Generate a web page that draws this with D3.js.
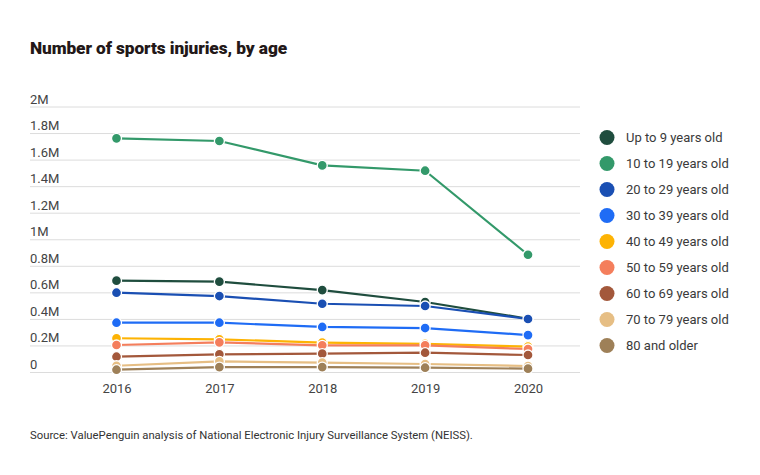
<!DOCTYPE html>
<html><head><meta charset="utf-8">
<script src="https://cdn.jsdelivr.net/npm/d3@7"></script>
<style>body{margin:0;background:#fff;font-family:Roboto,"Noto Sans",sans-serif}</style>
</head><body><svg id="c" width="760" height="475"></svg>
<script>
const years = ["2016","2017","2018","2019","2020"];
const seriesNames = ["Up to 9 years old","10 to 19 years old","20 to 29 years old","30 to 39 years old","40 to 49 years old","50 to 59 years old","60 to 69 years old","70 to 79 years old","80 and older"];
const colors = ["#1f4d3e","#33996a","#1a4fb3","#1f6cf5","#fdb304","#f47e5c","#a3583b","#e6be84","#9e8058"];
const up9   = [692000, 684000, 621000, 531000, 405000];
const y10   = [1764000,1744000,1560000,1520000, 887000];
const y20   = [601000, 576000, 518000, 501000, 403000];
const y30   = [375000, 375000, 343000, 335000, 282000];
const y40   = [258000, 250000, 225000, 215000, 195000];
const y50   = [207000, 227000, 205000, 205000, 177000];
const y60   = [119000, 137000, 142000, 149000, 132000];
const y70   = [51000,  84000,  74000,  64000,  49000];
const y80   = [21000,  41000,  41000,  36000,  29000];
const yTicks = [0,200000,400000,600000,800000,1000000,1200000,1400000,1600000,1800000,2000000];
const yTickLabels = ["0","0.2M","0.4M","0.6M","0.8M","1M","1.2M","1.4M","1.6M","1.8M","2M"];
const title = "Number of sports injuries, by age";
const source = "Source: ValuePenguin analysis of National Electronic Injury Surveillance System (NEISS).";

const data = [up9,y10,y20,y30,y40,y50,y60,y70,y80].map((v,i)=>({name:seriesNames[i],color:colors[i],values:v}));

const svg = d3.select("#c");
const x = d3.scalePoint().domain(years).range([116.5,528]);
const y = d3.scaleLinear().domain([0,2000000]).range([372.5,107]);

svg.append("text").attr("x",30).attr("y",54).text(title)
  .attr("font-family","Roboto").attr("font-weight",900).attr("font-size",17.3)
  .attr("letter-spacing","-0.1").attr("fill","#231818");

// grid
const g = svg.append("g");
g.selectAll("line.grid").data(yTicks).join("line")
  .attr("x1",30).attr("x2",580).attr("y1",d=>y(d)).attr("y2",d=>y(d))
  .attr("stroke","#dcdcdc").attr("stroke-width",1);
g.selectAll("text.yl").data(yTicks).join("text")
  .attr("x",30).attr("y",d=>y(d)-3.5).text((d,i)=>yTickLabels[i])
  .attr("font-size",13).attr("fill","#444");

// x axis labels
const xa = svg.append("g").attr("transform","translate(0,372.5)")
  .call(d3.axisBottom(x).tickSize(0).tickPadding(11));
xa.select(".domain").remove();
xa.selectAll("text").attr("font-size",13).attr("fill","#444").attr("font-family","Roboto");

const line = d3.line().x((d,i)=>x(years[i])).y(d=>y(d));
const sg = svg.selectAll("g.s").data(data).join("g");
sg.append("path").attr("d",d=>line(d.values)).attr("fill","none")
  .attr("stroke",d=>d.color).attr("stroke-width",2.2);
sg.selectAll("circle").data(d=>d.values.map((v,i)=>({v,i,c:d.color}))).join("circle")
  .attr("cx",d=>x(years[d.i])).attr("cy",d=>y(d.v)).attr("r",5)
  .attr("fill",d=>d.c).attr("stroke","#fff").attr("stroke-width",1.3);

// legend
const lg = svg.append("g");
const li = lg.selectAll("g").data(data).join("g").attr("transform",(d,i)=>`translate(607,${137.5+i*26})`);
li.append("circle").attr("r",7.5).attr("fill",d=>d.color);
li.append("text").attr("x",19).attr("y",4.5).text(d=>d.name).attr("font-size",13).attr("fill","#3a3a3a");

svg.append("text").attr("x",30).attr("y",439).text(source).attr("font-size",11.3).attr("fill","#333");
</script></body></html>
